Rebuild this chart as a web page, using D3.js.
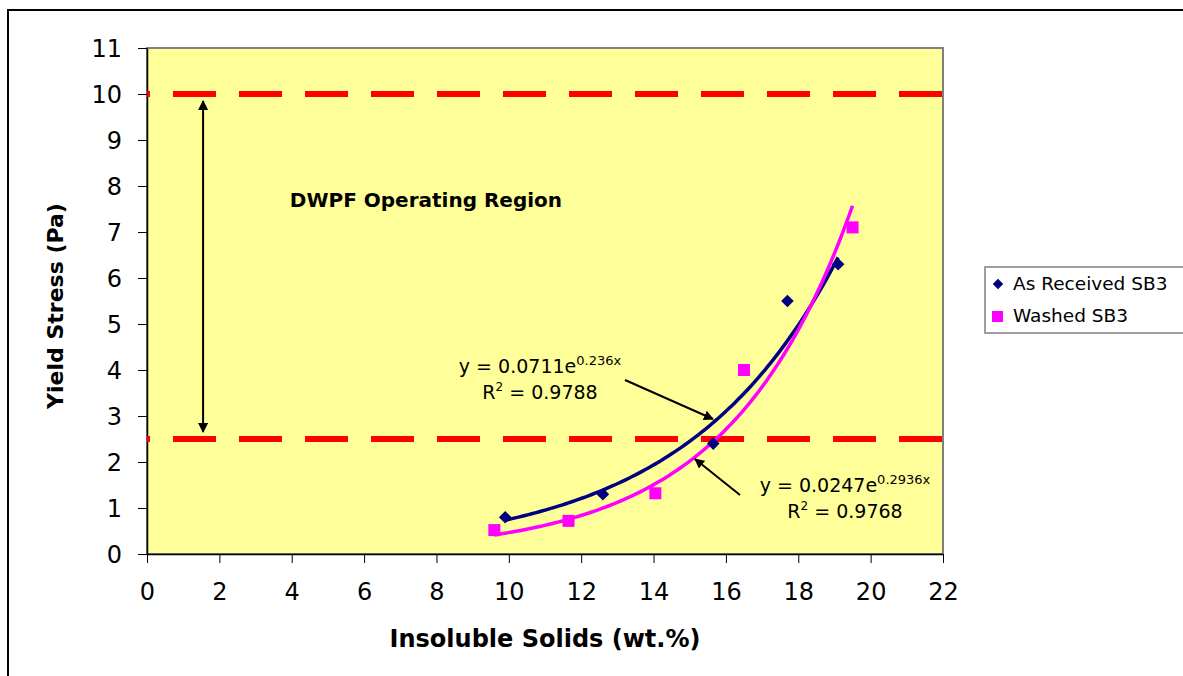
<!DOCTYPE html>
<html>
<head>
<meta charset="utf-8">
<script src="https://cdn.jsdelivr.net/npm/d3@7"></script>
<style>
  body { margin: 0; background: #fff; }
  text { font-family: "DejaVu Sans", sans-serif; }
</style>
</head>
<body>
<div id="chart"></div>
<script>
// Data
const asReceivedX = [9.9, 12.6, 15.65, 17.7, 19.1];
const asReceivedY = [0.8, 1.3, 2.4, 5.5, 6.3];
const washedX = [9.6, 11.65, 14.05, 16.5, 19.5];
const washedY = [0.52, 0.72, 1.32, 4.0, 7.1];
// exponential trendline coefficients shown on the chart: y = a * e^(b x)
const asReceivedFit = [0.0711, 0.236];
const washedFit = [0.0247, 0.2936];
const limitLines = [10, 2.5];
const xTicks = [0, 2, 4, 6, 8, 10, 12, 14, 16, 18, 20, 22];
const yTicks = [0, 1, 2, 3, 4, 5, 6, 7, 8, 9, 10, 11];
const seriesNames = ["As Received SB3", "Washed SB3"];

function draw() {
    const W = 1183, H = 676;
    const margin = { top: 48, left: 147 };
    const width = 796, height = 506;

    const root = d3.select("#chart").append("svg")
        .attr("width", W)
        .attr("height", H);

    // outer chart border
    root.append("rect")
        .attr("x", 8).attr("y", 10)
        .attr("width", 1200).attr("height", 700)
        .attr("fill", "none")
        .attr("stroke", "#000")
        .attr("stroke-width", 2);

    const svg = root.append("g")
        .attr("transform", `translate(${margin.left},${margin.top})`);

    const x = d3.scaleLinear().domain([0, 22]).range([0, width]);
    const y = d3.scaleLinear().domain([0, 11]).range([height, 0]);

    // plot area
    svg.append("rect")
        .attr("width", width)
        .attr("height", height)
        .attr("fill", "#FFFF99")
        .attr("stroke", "#808080")
        .attr("stroke-width", 2);

    // axes
    const xAxis = svg.append("g")
        .attr("transform", `translate(0,${height})`)
        .call(d3.axisBottom(x).tickValues(xTicks).tickSize(9).tickSizeOuter(0).tickPadding(20));
    const yAxis = svg.append("g")
        .call(d3.axisLeft(y).tickValues(yTicks).tickSize(9).tickSizeOuter(0).tickPadding(16));
    [xAxis, yAxis].forEach(a => {
        a.attr("font-family", null);
        a.selectAll("text").style("font-size", "24px").attr("fill", "#000");
        a.select(".domain").attr("stroke", "#000").attr("stroke-width", 1.5);
        a.selectAll(".tick line").attr("stroke", "#000");
    });
    yAxis.selectAll("text").attr("dy", "0.36em");

    // axis titles
    root.append("text")
        .attr("x", 545).attr("y", 647)
        .attr("text-anchor", "middle")
        .style("font-size", "24px")
        .style("font-weight", "bold")
        .text("Insoluble Solids (wt.%)");
    root.append("text")
        .attr("transform", "translate(63,306) rotate(-90)")
        .attr("text-anchor", "middle")
        .style("font-size", "22px")
        .style("font-weight", "bold")
        .text("Yield Stress (Pa)");

    // operating region limits
    svg.selectAll(".limit")
        .data(limitLines)
        .join("line")
        .attr("x1", 0).attr("x2", width)
        .attr("y1", d => y(d)).attr("y2", d => y(d))
        .attr("stroke", "#FF0000")
        .attr("stroke-width", 6)
        .attr("stroke-dasharray", "43,23")
        .attr("stroke-dashoffset", 40);

    // arrow markers
    const defs = root.append("defs");
    defs.append("marker")
        .attr("id", "head")
        .attr("viewBox", "0 0 10 10")
        .attr("refX", 9).attr("refY", 5)
        .attr("markerWidth", 5).attr("markerHeight", 5)
        .attr("orient", "auto-start-reverse")
        .append("path")
        .attr("d", "M0,0 L10,5 L0,10 Z")
        .attr("fill", "#000");

    // double arrow across the region
    svg.append("line")
        .attr("x1", x(1.55)).attr("x2", x(1.55))
        .attr("y1", y(9.85)).attr("y2", y(2.65))
        .attr("stroke", "#000")
        .attr("stroke-width", 2)
        .attr("marker-start", "url(#head)")
        .attr("marker-end", "url(#head)");

    svg.append("text")
        .attr("x", x(7.71)).attr("y", y(7.7))
        .attr("dy", "0.35em")
        .attr("text-anchor", "middle")
        .style("font-size", "20px")
        .style("font-weight", "bold")
        .text("DWPF Operating Region");

    // trendlines
    const line = d3.line().x(d => x(d[0])).y(d => y(d[1]));
    function trend(xs, fit) {
        const lo = d3.min(xs), hi = d3.max(xs);
        return d3.range(0, 101).map(i => {
            const xv = lo + (hi - lo) * i / 100;
            return [xv, fit[0] * Math.exp(fit[1] * xv)];
        });
    }
    svg.append("path")
        .datum(trend(asReceivedX, asReceivedFit))
        .attr("fill", "none")
        .attr("stroke", "#000080")
        .attr("stroke-width", 3.5)
        .attr("d", line);
    svg.append("path")
        .datum(trend(washedX, washedFit))
        .attr("fill", "none")
        .attr("stroke", "#FF00FF")
        .attr("stroke-width", 3.5)
        .attr("d", line);

    // points
    const diamond = d3.symbol().type(d3.symbolSquare).size(80);
    svg.selectAll(".ar")
        .data(asReceivedX.map((v, i) => [v, asReceivedY[i]]))
        .join("path")
        .attr("d", diamond)
        .attr("transform", d => `translate(${x(d[0])},${y(d[1])}) rotate(45)`)
        .attr("fill", "#000080");
    svg.selectAll(".wa")
        .data(washedX.map((v, i) => [v, washedY[i]]))
        .join("rect")
        .attr("x", d => x(d[0]) - 6)
        .attr("y", d => y(d[1]) - 6)
        .attr("width", 12).attr("height", 12)
        .attr("fill", "#FF00FF");

    // equations
    function equation(cx, cy, a, b, r2) {
        const t = svg.append("text")
            .attr("x", cx).attr("y", cy)
            .attr("text-anchor", "middle")
            .style("font-size", "19px");
        t.append("tspan").text(`y = ${a}e`);
        t.append("tspan").attr("dy", -8).style("font-size", "13px").text(`${b}x`);
        const r = svg.append("text")
            .attr("x", cx).attr("y", cy + 26)
            .attr("text-anchor", "middle")
            .style("font-size", "19px");
        r.append("tspan").text("R");
        r.append("tspan").attr("dy", -8).style("font-size", "12px").text("2");
        r.append("tspan").attr("dy", 8).text(" = " + r2);
    }
    equation(540 - margin.left, 373 - margin.top, "0.0711", "0.236", "0.9788");
    equation(845 - margin.left, 492 - margin.top, "0.0247", "0.2936", "0.9768");

    // pointer arrows
    const pointers = [
        [625, 380, 713, 419],
        [740, 495, 695, 459]
    ];
    root.selectAll(".ptr")
        .data(pointers)
        .join("line")
        .attr("x1", d => d[0]).attr("y1", d => d[1])
        .attr("x2", d => d[2]).attr("y2", d => d[3])
        .attr("stroke", "#000")
        .attr("stroke-width", 2)
        .attr("marker-end", "url(#head)");

    // legend
    const legend = root.append("g").attr("transform", "translate(985,267)");
    legend.append("rect")
        .attr("width", 220).attr("height", 66)
        .attr("fill", "#fff")
        .attr("stroke", "#808080")
        .attr("stroke-width", 1.5);
    legend.append("path")
        .attr("d", d3.symbol().type(d3.symbolSquare).size(55))
        .attr("transform", "translate(13,17) rotate(45)")
        .attr("fill", "#000080");
    legend.append("rect")
        .attr("x", 7).attr("y", 44)
        .attr("width", 11).attr("height", 11)
        .attr("fill", "#FF00FF");
    legend.selectAll(".lt")
        .data(seriesNames)
        .join("text")
        .attr("x", 28)
        .attr("y", (d, i) => 17 + i * 32)
        .attr("dy", "0.35em")
        .style("font-size", "18.5px")
        .text(d => d);
}

draw();
</script>
</body>
</html>
